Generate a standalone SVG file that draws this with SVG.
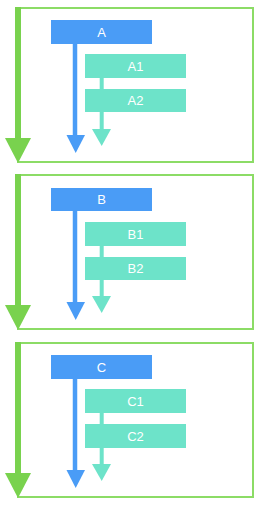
<svg xmlns="http://www.w3.org/2000/svg" width="263" height="510" viewBox="0 0 263 510">
<defs>
<style>
.box{fill:none;stroke:#8cdc66;stroke-width:2}
.gbar{fill:#79d24e}
.main{fill:#4a9cf6}
.sub{fill:#6de3c9}
.t{font-family:"Liberation Sans",Arial,sans-serif;font-size:13px;fill:#ffffff;text-anchor:middle;dominant-baseline:central}
.bl{stroke:#4a9cf6;stroke-width:4.5;fill:none}
.tl{stroke:#6de3c9;stroke-width:4;fill:none}
</style>
<g id="unit">
<rect class="box" x="18" y="0" width="235" height="154"/>
<rect class="gbar" x="15" y="-1" width="6" height="132"/>
<polygon class="gbar" points="5,130 31,130 18,155"/>
</g>
</defs>
<g id="frames">
<use href="#unit" y="8"/>
<use href="#unit" y="175"/>
<use href="#unit" y="343"/>
</g>
<g id="connectors">
<line class="bl" x1="75" y1="44" x2="75" y2="137"/>
<polygon class="main" points="66.5,135 85,135 75.7,153"/>
<line class="tl" x1="101.7" y1="78" x2="101.7" y2="89"/>
<line class="tl" x1="101.7" y1="112" x2="101.7" y2="130"/>
<polygon class="sub" points="92,129 111,129 101.7,146"/>

<line class="bl" x1="75" y1="211" x2="75" y2="304"/>
<polygon class="main" points="66.5,302 85,302 75.7,320"/>
<line class="tl" x1="101.7" y1="246" x2="101.7" y2="257"/>
<line class="tl" x1="101.7" y1="280" x2="101.7" y2="297"/>
<polygon class="sub" points="92,296 111,296 101.7,313"/>

<line class="bl" x1="75" y1="379" x2="75" y2="472"/>
<polygon class="main" points="66.5,470 85,470 75.7,488"/>
<line class="tl" x1="101.7" y1="413" x2="101.7" y2="424"/>
<line class="tl" x1="101.7" y1="448" x2="101.7" y2="465"/>
<polygon class="sub" points="92,464 111,464 101.7,481"/>
</g>
<g id="A"><rect class="main" x="51" y="20" width="101" height="24"/><text class="t" x="101.5" y="32">A</text></g>
<g id="A1"><rect class="sub" x="85" y="54" width="101" height="24"/><text class="t" x="135.5" y="66">A1</text></g>
<g id="A2"><rect class="sub" x="85" y="89" width="101" height="23"/><text class="t" x="135.5" y="100.5">A2</text></g>
<g id="B"><rect class="main" x="51" y="188" width="101" height="23"/><text class="t" x="101.5" y="199.5">B</text></g>
<g id="B1"><rect class="sub" x="85" y="222" width="101" height="24"/><text class="t" x="135.5" y="234">B1</text></g>
<g id="B2"><rect class="sub" x="85" y="257" width="101" height="23"/><text class="t" x="135.5" y="268.5">B2</text></g>
<g id="C"><rect class="main" x="51" y="355" width="101" height="24"/><text class="t" x="101.5" y="367">C</text></g>
<g id="C1"><rect class="sub" x="85" y="389" width="101" height="24"/><text class="t" x="135.5" y="401">C1</text></g>
<g id="C2"><rect class="sub" x="85" y="424" width="101" height="24"/><text class="t" x="135.5" y="436">C2</text></g>
</svg>
